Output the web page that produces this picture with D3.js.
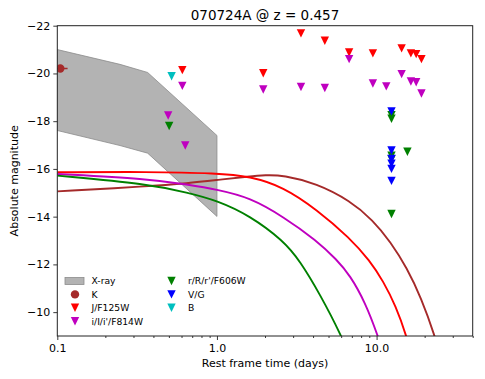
<!DOCTYPE html>
<meta charset="utf-8">
<script src="https://d3js.org/d3.v7.min.js"></script>
<style>
  body { margin: 0; background: #fff; }
  text { font-family: "DejaVu Sans", sans-serif; }
</style>
<div id="chart"></div>
<script>

// X-ray band (rest frame days, upper/lower absolute magnitude)
var bandTime  = [0.1, 0.247, 0.368, 1.0];
var bandUpper = [-21.0, -20.38, -20.04, -17.40];
var bandLower = [-17.61, -16.98, -16.66, -14.01];

// K detection with time error bar
var kTime = [0.1044], kMag = [-20.21], kTimeLo = [0.093], kTimeHi = [0.116];

// upper limits
var jTime = [0.607, 1.95, 3.36, 4.74, 6.73, 9.48, 14.35, 16.4, 17.7, 19.1];
var jMag  = [-20.14, -20.01, -21.68, -21.37, -20.88, -20.84, -21.05, -20.84, -20.81, -20.6];

var iTime = [0.495, 0.607, 0.633, 1.95, 3.36, 4.74, 6.73, 9.48, 11.5, 14.35, 16.4, 17.7, 19.1];
var iMag  = [-18.24, -19.48, -16.98, -19.33, -19.43, -19.39, -20.6, -19.58, -19.46, -19.97, -19.66, -19.63, -19.16];

var rTime = [0.502, 12.4, 12.4, 12.4, 12.4, 15.6, 12.4];
var rMag  = [-17.8, -18.25, -18.1, -16.55, -16.4, -16.72, -14.11];

var vTime = [12.4, 12.4, 12.4, 12.4, 12.4, 12.4];
var vMag  = [-18.41, -16.77, -16.42, -16.22, -16.0, -15.5];

var bTime = [0.520];
var bMag  = [-19.88];

// model light curves
var modelK = { t: [0.1, 0.37, 0.66, 1.01, 1.61, 2.0, 2.6, 4.21, 6.81, 9.5, 12.2, 15.5, 19.0, 23.2, 26],
               m: [-15.06, -15.27, -15.40, -15.54, -15.69, -15.74, -15.74, -15.39, -14.67, -13.85, -12.95, -11.85, -10.6, -9.0, -7.8] };
var modelJ = { t: [0.1, 0.37, 1.01, 1.61, 2.6, 4.21, 6.81, 9.08, 11.0, 13.2, 15.4, 17],
               m: [-15.86, -15.88, -15.82, -15.69, -15.25, -14.3, -13.1, -12.15, -11.3, -10.25, -9.0, -7.9] };
var modelI = { t: [0.1, 0.37, 0.66, 1.01, 1.61, 2.6, 4.21, 5.62, 6.81, 8.5, 10.2, 11.5],
               m: [-15.79, -15.58, -15.34, -15.13, -14.80, -14.0, -13.0, -12.2, -11.55, -10.4, -9.0, -7.9] };
var modelR = { t: [0.1, 0.37, 0.66, 1.01, 1.61, 2.6, 3.31, 4.42, 6.04, 7.0],
               m: [-15.72, -15.37, -15.0, -14.67, -14.04, -13.0, -12.15, -10.75, -9.0, -7.9] };

var yTicks = [-22, -20, -18, -16, -14, -12, -10];
var xTicks = [0.1, 1, 10];
var xTickLabels = ["0.1", "1.0", "10.0"];

var W = 485, H = 379;
var svg = d3.select("#chart").append("svg").attr("width", W).attr("height", H);

var x = d3.scaleLog().domain([0.1, 40]).range([57.3, 472.7]);
var y = d3.scaleLinear().domain([-22, -9]).range([25.7, 336]);

svg.append("clipPath").attr("id", "clip")
  .append("rect")
    .attr("x", x.range()[0]).attr("y", y.range()[0])
    .attr("width", x.range()[1] - x.range()[0])
    .attr("height", y.range()[1] - y.range()[0]);

var plot = svg.append("g").attr("clip-path", "url(#clip)");

// X-ray band
var bandPts = bandTime.map(function(t, i) { return [x(t), y(bandUpper[i])]; })
  .concat(bandTime.slice().reverse().map(function(t, i) {
    return [x(t), y(bandLower[bandTime.length - 1 - i])]; }));
plot.append("path")
  .attr("d", "M" + bandPts.join("L") + "Z")
  .attr("fill", "#b3b3b3")
  .attr("stroke", "#8c8c8c")
  .attr("stroke-width", 0.8);

// model curves
var line = d3.line().curve(d3.curveBasis)
  .x(function(d) { return x(d[0]); })
  .y(function(d) { return y(d[1]); });

[[modelK, "#a52a2a"], [modelJ, "#ff0000"], [modelI, "#bf00bf"], [modelR, "#008000"]].forEach(function(c) {
  plot.append("path")
    .attr("d", line(c[0].t.map(function(t, i) { return [t, c[0].m[i]]; })))
    .attr("fill", "none")
    .attr("stroke", c[1])
    .attr("stroke-width", 1.9);
});

// markers
function tri(s) { return "M" + (-s) + "," + (-s) + "L" + s + "," + (-s) + "L0," + s + "Z"; }

// K point
plot.append("line")
  .attr("x1", x(kTimeLo[0])).attr("x2", x(kTimeHi[0]))
  .attr("y1", y(kMag[0])).attr("y2", y(kMag[0]))
  .attr("stroke", "#a52a2a").attr("stroke-width", 1.5);
plot.append("circle")
  .attr("cx", x(kTime[0])).attr("cy", y(kMag[0])).attr("r", 4.2)
  .attr("fill", "#a52a2a");

function limits(ts, ms, col) {
  plot.selectAll(null).data(ts).enter().append("path")
    .attr("d", tri(4.2))
    .attr("transform", function(d, i) { return "translate(" + x(d) + "," + y(ms[i]) + ")"; })
    .attr("fill", col);
}
limits(jTime, jMag, "#ff0000");
limits(iTime, iMag, "#bf00bf");
limits(rTime, rMag, "#008000");
limits(vTime, vMag, "#0000ff");
limits(bTime, bMag, "#00bfbf");

// axes
svg.append("g")
  .attr("transform", "translate(" + x.range()[0] + ",0)")
  .call(d3.axisLeft(y).tickValues(yTicks).tickSize(4).tickPadding(3));

var xMinor = [];
[0.1, 1, 10].forEach(function(d) { for (var k = 2; k <= 9; k++) if (d * k <= 40) xMinor.push(d * k); });
svg.append("g")
  .attr("transform", "translate(0," + y.range()[1] + ")")
  .call(d3.axisBottom(x).tickValues(xMinor).tickSize(2).tickFormat(""));
svg.append("g")
  .attr("transform", "translate(0," + y.range()[1] + ")")
  .call(d3.axisBottom(x).tickValues(xTicks).tickSize(4).tickPadding(4)
    .tickFormat(function(d, i) { return xTickLabels[i]; }));

svg.selectAll(".domain").remove();
svg.selectAll(".tick line").attr("stroke", "#222").attr("stroke-width", 0.9);
svg.selectAll(".tick text").attr("font-size", 11).attr("fill", "#000")
  .style("font-family", "DejaVu Sans, sans-serif");

svg.append("rect")
  .attr("x", x.range()[0]).attr("y", y.range()[0])
  .attr("width", x.range()[1] - x.range()[0])
  .attr("height", y.range()[1] - y.range()[0])
  .attr("fill", "none").attr("stroke", "#222").attr("stroke-width", 1);

// titles
svg.append("text")
  .attr("x", (x.range()[0] + x.range()[1]) / 2).attr("y", 19.5)
  .attr("text-anchor", "middle").attr("font-size", 13.5)
  .text("070724A @ z = 0.457");
svg.append("text")
  .attr("x", (x.range()[0] + x.range()[1]) / 2).attr("y", 367)
  .attr("text-anchor", "middle").attr("font-size", 11)
  .text("Rest frame time (days)");
svg.append("text")
  .attr("transform", "translate(18," + ((y.range()[0] + y.range()[1]) / 2) + ") rotate(-90)")
  .attr("text-anchor", "middle").attr("font-size", 11)
  .text("Absolute magnitude");

// legend
var legendNames = ["X-ray", "K", "J/F125W", "i/I/i'/F814W", "r/R/r'/F606W", "V/G", "B"];
var legendColors = ["#b3b3b3", "#a52a2a", "#ff0000", "#bf00bf", "#008000", "#0000ff", "#00bfbf"];
var leg = svg.append("g").attr("font-size", 9.2);
legendNames.forEach(function(name, i) {
  var col = i < 4 ? 0 : 1, row = i < 4 ? i : i - 4;
  var mx = col === 0 ? 75 : 171.5, ty = 281 + row * 13.4;
  if (i === 0) {
    leg.append("rect").attr("x", mx - 10).attr("y", ty - 3.5).attr("width", 19).attr("height", 7)
      .attr("fill", "#b3b3b3").attr("stroke", "#8c8c8c").attr("stroke-width", 0.8);
  } else if (i === 1) {
    leg.append("circle").attr("cx", mx).attr("cy", ty).attr("r", 4.2).attr("fill", legendColors[i]);
  } else {
    leg.append("path").attr("d", tri(4.2)).attr("transform", "translate(" + mx + "," + ty + ")")
      .attr("fill", legendColors[i]);
  }
  leg.append("text").attr("x", mx + 16.5).attr("y", ty + 3.3).text(name);
});

</script>
